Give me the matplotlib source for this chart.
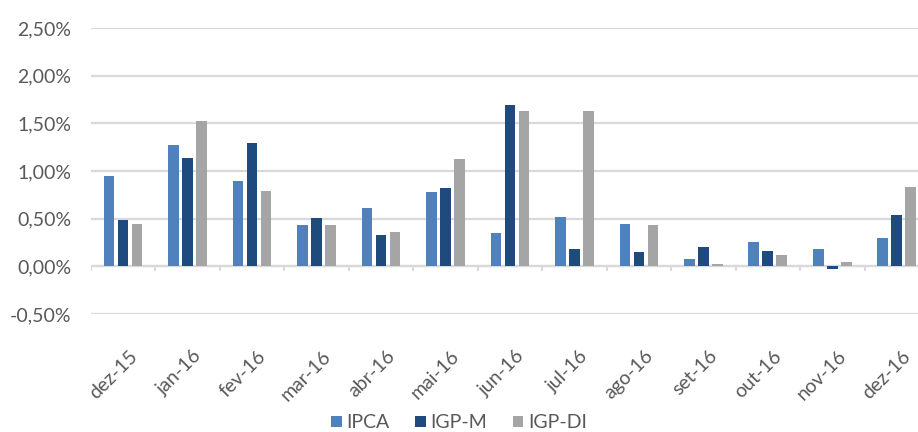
import matplotlib
matplotlib.use("Agg")
import matplotlib.pyplot as plt
import numpy as np

months = ["dez-15", "jan-16", "fev-16", "mar-16", "abr-16", "mai-16", "jun-16",
          "jul-16", "ago-16", "set-16", "out-16", "nov-16", "dez-16"]
ipca = [0.95, 1.27, 0.90, 0.43, 0.61, 0.78, 0.35, 0.52, 0.44, 0.08, 0.26, 0.18, 0.30]
igpm = [0.49, 1.14, 1.29, 0.51, 0.33, 0.82, 1.69, 0.18, 0.15, 0.20, 0.16, -0.03, 0.54]
igpdi = [0.44, 1.53, 0.79, 0.43, 0.36, 1.13, 1.63, 1.63, 0.43, 0.03, 0.12, 0.05, 0.83]
series = [("IPCA", ipca, "#4f81bd"), ("IGP-M", igpm, "#1f4a7e"), ("IGP-DI", igpdi, "#a5a5a5")]
yticks = [-0.5, 0.0, 0.5, 1.0, 1.5, 2.0, 2.5]

plt.rcParams["font.family"] = ["Lato", "DejaVu Sans"]
grey = "#595959"

fig = plt.figure(figsize=(9.18, 4.32), dpi=100)
ax = fig.add_axes([0.099, 0.273, 0.913, 0.662])

x = np.arange(len(months))
w = 0.166
step = 0.217
for i, (name, vals, col) in enumerate(series):
    ax.bar(x + (i - 1) * step, vals, width=w, color=col, label=name, zorder=3)

ax.set_ylim(-0.5, 2.5)
ax.set_xlim(-0.5, len(months) - 0.5)
ax.set_yticks(yticks)
ax.set_yticklabels([("%.2f%%" % v).replace(".", ",") for v in yticks],
                   fontsize=14, color=grey)
ax.yaxis.grid(True, color="#d9d9d9", linewidth=1.6, zorder=0)
ax.tick_params(axis="y", length=0, pad=14)

# x axis at zero with tick marks between categories
ax.axhline(0, color="#d9d9d9", linewidth=1.6, zorder=2)
ax.vlines(np.arange(len(months) + 1) - 0.5, -0.05, 0, color="#d9d9d9",
          linewidth=1.4, zorder=2)

ax.set_xticks(x + 0.08)
ax.set_xticklabels(months, rotation=45, ha="right", rotation_mode="anchor",
                   fontsize=14, color=grey)
ax.tick_params(axis="x", length=0, pad=24)

for s in ax.spines.values():
    s.set_visible(False)

ax.legend(loc="center", bbox_to_anchor=(0.5 / 0.913 - 0.099 / 0.913, -0.38),
          ncol=3, frameon=False, fontsize=14, handlelength=0.55, handleheight=0.55,
          handletextpad=0.25, columnspacing=1.3, labelcolor=grey)

fig.savefig("out.png", dpi=100)
